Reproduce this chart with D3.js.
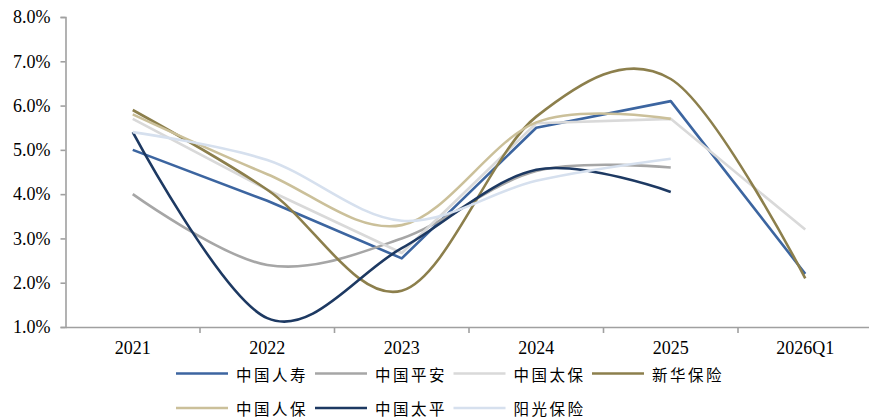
<!DOCTYPE html>
<html><head><meta charset="utf-8">
<script src="https://cdn.jsdelivr.net/npm/d3@7"></script>
<style>
html,body{margin:0;padding:0;background:#fff;}
svg{display:block;}
</style></head>
<body>
<svg id="chart" width="869" height="418"></svg>
<script>
const categories = ["2021","2022","2023","2024","2025","2026Q1"];
const seriesNames = ["中国人寿","中国平安","中国太保","新华保险","中国人保","中国太平","阳光保险"];
const chinaLife   = [5.0, 3.85, 2.55, 5.5, 6.1, 2.2];
const pingAn      = [4.0, 2.4, 3.0, 4.52, 4.6, null];
const cpic        = [5.7, 4.1, 2.67, 5.6, 5.7, 3.2];
const newChina    = [5.9, 4.1, 1.82, 5.75, 6.6, 2.1];
const picc        = [5.8, 4.45, 3.3, 5.62, 5.7, null];
const taiping     = [5.4, 1.2, 2.78, 4.55, 4.05, null];
const sunshine    = [5.4, 4.77, 3.4, 4.3, 4.8, null];
const yTicks = [1,2,3,4,5,6,7,8];

const seriesValues = [chinaLife, pingAn, cpic, newChina, picc, taiping, sunshine];
const colors = ["#3C65A0","#A6A6A6","#D9D9D9","#8C7F4C","#CBC09A","#1D3962","#D6E0EE"];
const smooth = [false, true, false, true, true, true, true];

const svg = d3.select("#chart");
const plotLeft = 65.5, plotRight = 872.5, plotTop = 17, plotBottom = 327;

const x = d3.scaleBand().domain(categories).range([plotLeft, plotRight]).paddingInner(0).paddingOuter(0);
const y = d3.scaleLinear().domain([1, 8]).range([plotBottom, plotTop]);
const cx = c => x(c) + x.bandwidth() / 2;

const axisColor = "#A0A0A0";

// Y axis
const yAxis = svg.append("g").attr("transform", `translate(${plotLeft},0)`)
  .call(d3.axisLeft(y).tickValues(yTicks).tickSize(5).tickPadding(10)
        .tickFormat(d => d3.format(".1%")(d / 100)));
yAxis.select(".domain").attr("stroke", axisColor).attr("stroke-width", 1.6);
yAxis.selectAll(".tick line").attr("stroke", axisColor).attr("stroke-width", 1.6);
yAxis.selectAll(".tick text").attr("font-family", "'Liberation Serif','Times New Roman',serif")
  .attr("font-size", 18).attr("fill", "#000");

// X axis
const xAxis = svg.append("g").attr("transform", `translate(0,${plotBottom})`)
  .call(d3.axisBottom(x).tickSize(0).tickPadding(14).tickSizeOuter(0));
xAxis.select(".domain").attr("stroke", axisColor).attr("stroke-width", 1.6);
xAxis.selectAll(".tick text").attr("font-family", "'Liberation Serif','Times New Roman',serif")
  .attr("font-size", 18).attr("fill", "#000");
// boundary ticks
svg.append("g").selectAll("line").data(categories.slice(1)).join("line")
  .attr("x1", d => x(d)).attr("x2", d => x(d))
  .attr("y1", plotBottom).attr("y2", plotBottom + 6)
  .attr("stroke", axisColor).attr("stroke-width", 1.6);

// Lines
seriesValues.forEach((vals, i) => {
  const pts = categories.map((c, j) => ({c, v: vals[j]}));
  const line = d3.line()
    .defined(d => d.v != null)
    .x(d => cx(d.c)).y(d => y(d.v))
    .curve(smooth[i] ? d3.curveCardinal.tension(0) : d3.curveLinear);
  svg.append("path").datum(pts)
    .attr("d", line).attr("fill", "none")
    .attr("stroke", colors[i]).attr("stroke-width", 2.6)
    .attr("stroke-linejoin", "round");
});

// Legend
const legendCols = [176, 315, 453.5, 592];
const legendRows = [373.5, 408];
const lg = svg.append("g");
seriesNames.forEach((name, i) => {
  const col = i % 4, row = Math.floor(i / 4);
  const gx = legendCols[col], gy = legendRows[row];
  lg.append("line").attr("x1", gx).attr("x2", gx + 52).attr("y1", gy).attr("y2", gy)
    .attr("stroke", colors[i]).attr("stroke-width", 2.6);
  lg.append("text").attr("x", gx + 60).attr("y", gy)
    .attr("dominant-baseline", "central")
    .attr("font-family", "'Noto Sans CJK SC',sans-serif")
    .attr("font-size", 15.5).attr("letter-spacing", "2.5px").attr("fill", "#000")
    .text(name);
});
</script>
</body></html>
